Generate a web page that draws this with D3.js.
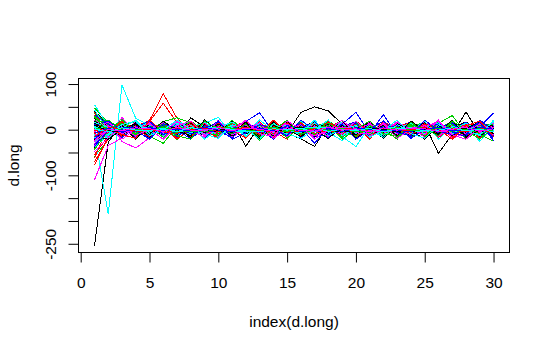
<!DOCTYPE html>
<html>
<head>
<meta charset="utf-8">
<script src="https://cdn.jsdelivr.net/npm/d3@7"></script>
<style>
  html, body { margin: 0; padding: 0; background: #ffffff; }
  svg { display: block; font-family: "Liberation Sans", Arial, sans-serif; }
  .series { fill: none; stroke-width: 1; shape-rendering: crispEdges; }
  text { fill: #000; }
</style>
</head>
<body>
<svg id="chart" width="550" height="350"></svg>
<script>
// index positions shared by every column of d.long
const index = d3.range(1, 31);

// one column per series, values at index 1..30
const s00 = [-255,-28,14,-10,6,-15,18,-8,12,-17,4,10,-6,14,-12,8,-4,17,-15,6,10,-8,2,-13,12,-6,15,-10,4,-12];
const s01 = [32,12,-12,8,20,79,25,-6,10,-16,12,-4,17,-10,6,-14,8,15,-12,4,-8,14,-6,10,-17,8,-4,12,-10,6];
const s02 = [-59,-22,10,18,-8,15,-22,6,-12,17,-6,12,-24,8,-4,14,-16,6,20,-10,4,-17,12,-2,15,-8,6,-14,19,-4];
const s03 = [18,-10,17,-15,6,-8,12,-20,4,14,-10,18,37,-6,10,-17,8,-12,15,-4,12,-14,6,17,-8,4,-16,10,-6,14];
const s04 = [-8,-185,98,25,10,-12,6,17,-8,14,-4,10,-15,8,-12,20,-6,12,-17,4,14,-8,10,-14,6,-10,15,-4,12,-19];
const s05 = [-110,-35,-18,12,-6,17,-10,4,-14,8,15,-6,12,-17,6,-8,14,-12,4,18,-10,8,-15,12,-4,17,-8,6,-14,10];
const s06 = [40,12,-8,17,-4,10,-14,26,6,-10,15,-36,8,-6,14,-16,4,12,-8,17,-12,6,-4,15,-10,8,-17,12,-6,4];
const s07 = [-45,17,6,-14,18,58,15,-8,15,-4,10,-17,6,12,-10,4,-14,8,17,-6,12,-15,4,10,-8,14,-12,6,15,-10];
const s08 = [25,-18,22,-6,12,-15,8,-4,17,-10,6,14,-12,4,-17,10,-6,15,-8,12,-4,8,-14,6,17,-10,12,-6,8,-15];
const s09 = [-20,14,-15,10,-20,6,-12,17,-8,4,-14,12,-6,15,-10,6,-17,8,12,38,-8,33,-12,10,-6,14,-15,4,-10,17];
const s10 = [12,-6,12,-18,8,-10,15,-4,14,27,-12,6,-8,17,-14,10,-4,12,-15,-37,8,-6,14,-10,4,-12,15,-8,6,-17];
const s11 = [-35,18,-26,-40,-18,8,-12,15,-6,10,-17,4,12,-8,14,-4,10,-14,6,-10,15,-12,8,-6,17,-4,10,-15,6,12];
const s12 = [8,-20,10,-6,14,-17,8,-12,4,15,-10,6,-14,12,-8,38,50,41,12,-10,6,-15,14,-4,8,-12,17,-6,10,-14];
const s13 = [-78,-15,18,-14,4,14,-8,12,-20,6,-12,17,-4,10,-15,8,-6,14,-10,17,-8,4,-12,15,-6,10,-17,8,14,-4];
const s14 = [48,15,-6,15,-12,8,-18,14,-6,10,-15,4,12,-10,17,-8,6,-14,10,-4,15,-12,6,-17,8,-6,12,-10,4,15];
const s15 = [-5,20,-14,8,-17,12,-6,15,-20,8,-12,14,-4,17,-10,6,-15,10,-8,14,-6,12,-17,4,15,-8,10,-14,6,37];
const s16 = [55,8,15,-12,6,-17,10,-8,14,-6,12,-15,4,10,-14,8,-10,17,-6,12,-4,15,-12,6,-8,14,-17,10,-26,8];
const s17 = [30,-14,27,-8,17,-14,12,-6,10,-14,4,15,-10,8,-17,12,-6,14,-12,4,-8,17,-14,6,10,-4,15,-8,12,-10];
const s18 = [-40,10,-12,6,-17,14,-4,10,-15,8,-6,12,-17,4,14,-10,6,-12,15,-8,10,-4,14,-6,12,-52,-10,39,-10,6];
const s19 = [-70,-20,10,-17,12,-6,15,-10,4,-14,8,17,-12,6,-8,14,-15,10,-4,12,-17,6,-10,15,-6,8,-14,12,-4,10];
const s20 = [-30,6,-17,12,-4,18,26,15,-6,12,-17,8,-10,14,-6,17,-12,4,-15,8,-10,16,-6,12,-14,4,17,-10,6,-15];
const s21 = [22,-12,8,-15,14,-6,10,-20,12,-8,17,-4,10,-14,6,-15,12,-6,8,17,-10,14,-8,4,-12,15,-6,10,-17,12];
const s22 = [-15,17,-8,14,-6,10,-15,4,17,-10,8,-14,12,-4,15,-8,6,-17,10,-12,4,14,-6,8,-15,12,-10,17,-4,8];
const s23 = [10,-8,14,-4,10,-17,6,12,-8,15,-12,4,-6,14,-10,8,-15,6,17,-4,12,-10,8,-14,6,15,-8,4,-12,10];
const s24 = [-22,8,-15,10,-6,14,-10,6,-12,17,-4,8,-14,12,-8,-20,-37,12,-6,10,-14,4,15,-8,6,-12,10,-4,14,-15];
const s25 = [-55,-14,12,-4,17,-10,6,-14,8,-18,12,-6,15,-10,4,-12,17,-8,10,-15,6,14,-4,12,-8,6,-17,10,-6,15];
const s26 = [36,15,-10,6,-14,-30,8,-4,15,-12,6,-10,14,-17,8,-6,12,-4,17,-10,8,-15,4,10,-6,14,31,-8,12,-6];
const s27 = [5,-17,6,-12,15,-4,10,-8,14,-6,-15,12,-8,6,-17,10,-4,15,-12,8,-6,12,-14,17,-10,4,-8,14,-6,10];
const s28 = [44,-4,-10,15,-8,12,-6,17,-12,6,-14,10,-4,15,-10,8,-12,6,14,-17,10,-6,12,-8,4,-14,15,-4,8,-12];
const s29 = [-28,12,-6,17,-10,4,-14,8,-4,12,-17,10,-8,6,14,-12,4,-15,10,-6,17,-8,6,-12,15,-4,10,-14,8,-6];
const s30 = [15,-12,17,-6,10,-15,4,14,-8,6,-12,15,-4,10,-17,8,-6,12,-10,4,15,-14,8,-6,12,-10,4,17,-8,14];
const s31 = [-62,6,-12,10,-4,15,-17,8,-10,14,-6,12,-15,4,8,-12,17,-6,10,-14,6,-8,15,-4,12,-10,8,-15,6,-4];
const s32 = [20,-14,10,-8,15,-6,12,-10,6,-15,12,-4,8,-14,17,-6,10,-12,4,15,-8,6,-17,12,-4,10,-6,14,-10,-25];
const s33 = [-10,12,-8,12,-14,6,-10,15,-4,8,-12,17,-6,10,-15,4,-30,8,-14,12,-6,10,-8,15,-12,6,-4,17,-10,8];
const s34 = [28,-13,14,-10,4,-15,12,-6,17,-8,10,-14,6,-4,15,-12,8,-10,14,-6,4,-17,12,-8,10,-15,6,12,-6,4];
const s35 = [-48,-18,8,-15,12,-6,17,-10,4,-14,10,-8,15,-12,6,-4,14,-17,8,-10,12,-6,15,-4,10,-14,6,-8,17,-12];
const s36 = [3,14,-6,12,-17,8,-4,15,-10,6,-14,10,-8,17,-4,12,-15,6,-10,14,-6,8,-12,4,15,-10,12,-6,-14,10];
const s37 = [38,-8,17,-12,6,-4,14,-15,10,-8,12,-6,4,-17,10,-14,8,15,-6,12,-10,17,-4,8,-12,6,-15,10,-8,14];
const s38 = [-42,15,-4,8,-12,17,-6,10,-14,4,-8,15,-12,6,-10,14,-4,8,-17,12,-6,10,-15,8,-4,17,-12,6,10,-8];
const s39 = [12,-6,12,-17,8,-10,15,-4,12,-6,17,-10,8,-14,4,12,-8,-17,6,-12,14,-4,10,-15,8,-6,12,-10,15,-24];
const s40 = [-18,10,-15,6,14,-8,4,-12,17,-6,10,-15,8,-4,12,-10,15,-6,-24,8,-14,6,-10,12,-4,15,-8,6,-12,17];
const s41 = [25,-17,10,-6,15,-12,8,-4,14,-10,6,17,-8,12,-15,4,-6,10,-14,8,-4,15,-10,6,-17,12,-8,14,-6,10];
const s42 = [-8,4,-12,15,-8,6,-14,10,-6,12,-4,8,-15,14,-10,6,17,-8,4,-12,15,-6,10,-14,8,-4,12,-17,6,-10];
const s43 = [5,16,-15,4,-10,14,-6,17,-12,8,-4,14,-10,6,15,-8,12,-4,10,-17,6,-12,8,15,-6,10,-14,4,-8,12];
const s44 = [-25,-8,15,-12,6,-17,10,-4,12,-8,15,-6,10,-14,4,-10,8,14,-6,17,-12,6,-4,10,-15,8,-6,12,-10,4];
const s45 = [33,12,-8,14,-4,10,-15,6,-10,17,-6,12,-8,4,-14,15,-10,6,-12,8,-17,10,-6,14,-8,4,15,-12,6,-14];
const s46 = [-38,-12,6,-14,10,-4,15,-8,12,-17,4,-10,14,-6,8,-15,10,-4,17,-8,6,-12,4,14,-10,6,-8,15,-4,12];
const s47 = [0,17,-10,8,-6,15,-4,12,-14,6,-8,10,-17,4,12,-6,8,-10,15,-4,14,-8,6,-12,10,-15,4,8,-6,14];
const s48 = [26,-3,9,-21,13,-2,7,-18,11,-5,20,-9,3,-13,18,-7,1,-20,9,-11,5,-19,13,-1,-21,9,-13,3,17,-9];
const s49 = [-12,-7,19,-1,-15,5,-21,3,13,-9,1,-19,11,-3,-21,15,-9,1,-13,19,-5,-1,21,-11,7,-17,1,11,-19,3];
const s50 = [14,21,-1,-11,5,11,-7,19,-3,-13,21,-5,-1,13,-19,7,-11,19,-1,-15,9,1,-21,17,-7,-1,11,-21,1,13];
const s51 = [-33,1,-17,5,19,-11,1,-21,9,1,-19,13,3,-21,9,-1,19,-11,-3,15,-17,1,9,-19,1,13,-5,-15,21,-1];
const s52 = [6,-19,3,21,-9,1,-13,11,-21,3,17,-7,21,-1,-9,-19,1,21,-13,7,-1,-17,11,-3,19,-21,7,1,-11,19];
const s53 = [-4,9,-21,1,13,-7,19,-1,-17,21,-11,-1,15,-19,1,11,-21,3,-9,19,-13,-3,17,-1,-11,21,-19,-7,13,-1];
const s54 = [-14,-21,1,13,-11,19,-3,-13,21,-1,-7,17,-21,9,1,-15,11,-9,21,-19,1,9,-13,19,-3,-9,21,-15,-1,11];
const s55 = [18,3,-11,-19,21,-5,-9,11,-1,-19,13,1,-11,21,-7,-1,-13,17,-1,11,-21,19,-3,-7,13,1,-21,9,19,-15];
const s56 = [-44,-1,21,-9,-1,7,-13,-21,19,1,-9,13,-17,-1,21,-11,3,9,-21,1,19,-9,-15,11,1,-13,19,-1,-21,5];
const s57 = [9,19,-3,-1,-21,13,3,-9,-1,19,-21,-7,11,1,-13,21,-1,-9,13,-21,1,19,-7,-13,21,-3,-11,1,15,-19];
const s58 = [-26,-9,11,19,-13,-1,21,1,-9,-19,11,1,-21,13,-1,-7,21,-13,1,9,-17,-1,21,-9,-19,11,1,-3,-13,21];
const s59 = [21,5,-1,-13,1,-21,9,19,-11,1,-3,21,-9,-15,19,1,-13,-3,21,-7,-9,13,-19,1,5,19,-11,-21,7,-3];
const s60 = [14,-3,5,-2,4,-5,1,3,-4,2,-1,5,-3,4,-2,1,-5,3,-1,4,-2,5,-4,2,-3,1,4,-5,2,-1];
const s61 = [-9,4,-1,3,-5,2,-3,1,5,-4,3,-2,4,-1,-5,3,2,-4,5,-2,1,-3,4,-5,2,3,-1,4,-2,-4];
const s62 = [22,-5,3,-4,1,5,-2,-4,3,1,-5,4,-1,2,-3,5,-4,1,3,-2,-5,4,-1,2,5,-3,1,-4,3,2];
const s63 = [-17,2,-4,5,-3,-1,4,-5,2,-3,5,1,-2,-4,3,-1,5,-3,-2,4,1,-5,3,-1,-4,2,5,-2,-3,4];
const s64 = [5,-1,4,-3,2,-5,3,-1,4,-2,1,-4,5,-3,2,-1,3,5,-4,1,-2,3,-5,4,-1,-3,2,4,-5,1];
const s65 = [-26,3,-2,-5,4,1,-3,5,-1,-4,2,3,-5,1,4,-2,-3,2,5,-1,-4,1,3,-2,5,-5,-1,3,1,-4];
const s66 = [11,-4,1,2,-5,3,4,-2,-3,5,-1,-2,3,-4,1,5,-2,-4,2,3,-3,-1,4,-5,1,2,-3,5,-1,3];
const s67 = [-3,5,-4,1,3,-2,-5,2,4,-1,-3,5,-2,1,-4,3,-1,-5,4,2,-2,5,-4,3,-1,1,-5,2,4,-3];
const s68 = [30,1,3,-3,-2,4,-1,-5,1,3,-4,-1,2,5,-2,-3,4,1,-5,3,2,-4,-1,5,-3,4,1,-2,-4,2];
const s69 = [-37,-2,5,4,-1,-4,2,3,-5,-2,4,1,-3,-5,2,4,-1,3,-2,-5,5,2,-3,1,4,-4,3,-1,2,-5];
const s70 = [7,3,-5,2,5,-3,1,-2,4,5,-2,-5,1,3,-1,-4,5,2,-3,1,-4,3,5,-2,-5,2,-1,4,-3,1];
const s71 = [-12,-5,2,-1,-4,5,-3,4,-2,1,3,-4,5,-2,-3,2,-5,4,1,-1,3,-2,-4,5,2,-3,4,-5,1,3];
const s72 = [19,2,-3,4,-2,-1,5,-4,1,-5,2,4,-1,3,5,-3,1,-2,-4,5,-1,2,-5,3,-2,4,-3,1,5,-1];
const s73 = [-6,-1,4,-5,3,2,-4,1,5,-3,-2,4,-1,-5,3,1,-2,5,-3,-4,2,-1,4,1,-3,5,-2,-4,3,2];
const s74 = [3,4,-2,1,-3,4,2,-5,-1,3,5,-3,2,-1,-4,4,-3,1,2,-4,5,-2,1,-3,4,-1,5,-3,-2,4];
const s75 = [-20,-3,1,-4,5,-2,3,2,-5,4,-1,1,-4,2,5,-5,3,-1,4,-3,-1,5,-2,-4,3,1,-2,5,-5,2];
const s76 = [16,5,-1,3,-4,1,-5,3,2,-2,4,-5,3,-3,1,2,-4,5,-1,3,-5,1,2,-3,-1,4,-5,3,1,-2];
const s77 = [-31,1,2,-2,4,-4,5,-3,1,2,-5,3,-1,4,-2,-3,1,-4,5,2,-2,-5,3,4,-4,2,3,-1,-2,5];
const s78 = [9,-2,-5,5,-1,3,-2,4,-3,-1,2,-3,4,-5,2,5,-1,3,-4,-2,4,1,-5,2,3,-4,1,2,-5,3];
const s79 = [-15,4,3,-3,1,-5,4,-1,3,-4,1,5,-2,3,-1,-5,2,-3,1,4,-4,3,-2,-1,5,-3,2,-5,4,-1];
const s80 = [27,-4,2,1,-3,5,-1,4,-5,2,3,-1,-4,5,-3,1,4,-2,3,-5,2,-3,5,-1,-2,3,-4,1,2,-3];
const s81 = [-8,3,-5,2,4,-2,1,-3,5,-1,-4,2,3,-2,5,-4,-1,3,-5,4,1,-2,-3,4,-1,5,-3,-2,5,1];
const s82 = [2,-5,4,-1,-2,3,-4,5,-2,4,1,-3,-5,2,-1,3,5,-4,1,-2,3,-5,2,4,-3,-1,4,-3,1,-5];
const s83 = [-24,1,-3,4,2,-4,5,-1,-3,5,-2,3,1,-4,4,-2,-3,5,-1,2,-5,4,-1,3,2,-4,1,5,-4,2];

const columns = [s00,s01,s02,s03,s04,s05,s06,s07,s08,s09,s10,s11,s12,s13,s14,s15,
                 s16,s17,s18,s19,s20,s21,s22,s23,s24,s25,s26,s27,s28,s29,s30,s31,
                 s32,s33,s34,s35,s36,s37,s38,s39,s40,s41,s42,s43,s44,s45,s46,s47,
                 s48,s49,s50,s51,s52,s53,s54,s55,s56,s57,s58,s59,s60,s61,s62,s63,
                 s64,s65,s66,s67,s68,s69,s70,s71,s72,s73,s74,s75,s76,s77,s78,s79,
                 s80,s81,s82,s83];

// axis ticks
const xTicks = [0, 5, 10, 15, 20, 25, 30];
const yTicks = [100, 50, 0, -50, -100, -150, -200, -250];
const yTickLabels = ["100", "", "0", "", "-100", "", "", "-250"];

// base graphics palette, recycled over the columns
const palette = ["#000000", "#FF0000", "#00CD00", "#0000FF", "#00FFFF", "#FF00FF"];

const svg = d3.select("#chart");
const plot = { left: 78.5, right: 509.5, top: 78.5, bottom: 252.5 };

// 4% padding on each side of the data range
const allVals = columns.flat();
const yMin = d3.min(allVals), yMax = d3.max(allVals);
const xPad = (index[index.length - 1] - index[0]) * 0.04;
const yPad = (yMax - yMin) * 0.04;

const x = d3.scaleLinear()
  .domain([index[0] - xPad, index[index.length - 1] + xPad])
  .range([plot.left, plot.right]);
const y = d3.scaleLinear()
  .domain([yMin - yPad, yMax + yPad])
  .range([plot.bottom, plot.top]);

const line = d3.line()
  .x((d, i) => x(index[i]))
  .y(d => y(d));

svg.append("g")
  .selectAll("path")
  .data(columns)
  .join("path")
  .attr("class", "series")
  .attr("stroke", (d, i) => palette[i % palette.length])
  .attr("d", line);

// frame around the plotting region
svg.append("rect")
  .attr("x", plot.left).attr("y", plot.top)
  .attr("width", plot.right - plot.left)
  .attr("height", plot.bottom - plot.top)
  .attr("fill", "none").attr("stroke", "#000").attr("stroke-width", 1);

const fontSize = "15.5px";

// x axis
const xAxis = svg.append("g")
  .attr("transform", `translate(0,${plot.bottom})`)
  .call(d3.axisBottom(x).tickValues(xTicks).tickSize(10).tickFormat(d3.format("d")));
xAxis.select(".domain").attr("d", `M${Math.round(x(xTicks[0])) + 0.5},0H${Math.round(x(xTicks[xTicks.length - 1])) + 0.5}`);
xAxis.selectAll(".tick line").attr("stroke", "#000");
xAxis.selectAll(".tick text")
  .attr("font-family", "Liberation Sans, Arial, sans-serif")
  .attr("font-size", fontSize).attr("fill", "#000")
  .attr("dy", "0").attr("y", 35);

// y axis, labels rotated along the axis
const yAxis = svg.append("g")
  .attr("transform", `translate(${plot.left},0)`)
  .call(d3.axisLeft(y).tickValues(yTicks).tickSize(10).tickFormat((d, i) => yTickLabels[i]));
yAxis.select(".domain").attr("d", `M0,${Math.round(y(yTicks[0])) + 0.5}V${Math.round(y(yTicks[yTicks.length - 1])) + 0.5}`);
yAxis.selectAll(".tick line").attr("stroke", "#000");
yAxis.selectAll(".tick text")
  .attr("font-family", "Liberation Sans, Arial, sans-serif")
  .attr("font-size", fontSize).attr("fill", "#000")
  .attr("x", 0).attr("dy", "0").attr("dx", "0")
  .attr("text-anchor", "middle")
  .attr("transform", "translate(-23,0) rotate(-90)");

// axis titles
svg.append("text")
  .attr("x", (plot.left + plot.right) / 2)
  .attr("y", 327)
  .attr("text-anchor", "middle")
  .attr("font-size", fontSize)
  .text("index(d.long)");

svg.append("text")
  .attr("transform", `translate(19,${(plot.top + plot.bottom) / 2}) rotate(-90)`)
  .attr("text-anchor", "middle")
  .attr("font-size", fontSize)
  .text("d.long");
</script>
</body>
</html>
